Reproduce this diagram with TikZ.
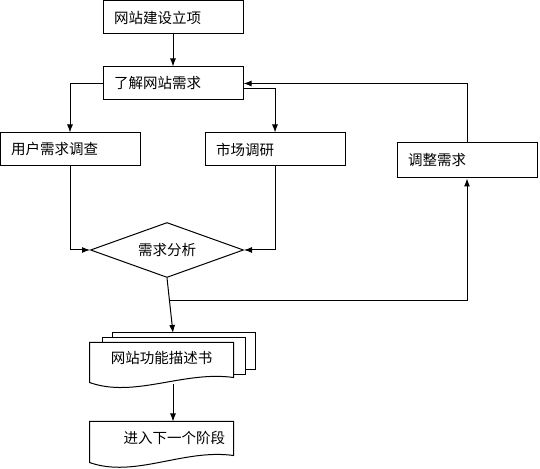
\documentclass[tikz,border=0pt]{standalone}
\usepackage{fontspec}
\usepackage{tikz}
\usetikzlibrary{shapes.geometric,arrows.meta,calc}
\newfontfamily\cjk{Noto Sans CJK SC}

\begin{document}
\begin{tikzpicture}[x=1pt,y=1pt,line width=1pt,>={Latex[length=8pt,width=6pt]},
	font=\cjk\fontsize{14.5}{17}\selectfont]
	\useasboundingbox (0,0) rectangle (540,468);

	\begin{scope}[every node/.style={draw,rectangle,minimum width=140pt,minimum height=33pt,text width=118pt,inner xsep=11pt,align=left}]
		\node (start) at (173,450.5) {网站建设立项};
		\node (need) at (173,384.5) {了解网站需求};
		\node (user) at (70,318.5) {用户需求调查};
		\node (market) at (275,318.5) {市场调研};
		\node [minimum height=35pt] (adjust) at (467,307.5) {调整需求};
	\end{scope}

	\node [draw,diamond,aspect=2.8,minimum width=153pt,minimum height=55pt,inner sep=0pt] (ana) at (167,218) {需求分析};

	% pages behind the document
	\draw (112,130) -- (112,135) -- (255,135) -- (255,98) -- (245,98);
	\draw (102,125) -- (102,130) -- (245,130) -- (245,93) -- (233,93);
	\coordinate (stacktop) at (173,135);

	\begin{scope}[every node/.style={minimum width=143pt,minimum height=30pt}]
		\node (doc) at (161.5,110) {网站功能描述书};
		\node [minimum height=32pt,text width=127pt,inner xsep=8pt,align=right] (next) at (161.5,30) {进入下一个阶段};
	\end{scope}
	\draw (doc.north west) -- (doc.north east) -- ([yshift=-4pt]doc.south east)
		.. controls +(-50,7) and +(45,-16) .. ([yshift=-9pt]doc.south west) -- cycle;
	\draw (next.north west) -- (next.north east) -- ([yshift=-1pt]next.south east)
		.. controls +(-50,7) and +(45,-16) .. ([yshift=-8pt]next.south west) -- cycle;

	\begin{scope}[every path/.style={draw=black}]
		\draw [->] (start) -- (need);
		\draw [->] (need.west) -| (user.north);
		\draw [->] ([yshift=-5.5pt]need.east) -| (market.north);
		\draw [->] (adjust.north) |- (need.east);
		\draw [->] (user.south) |- (ana.west);
		\draw [->] (market.south) |- (ana.east);
		\draw [->] (ana.south) -- (stacktop);
		\coordinate (split) at ($(ana.south)!0.405!(stacktop)$);
		\draw [->] (split) -| (adjust.south);
		\draw [->] ([xshift=11.5pt,yshift=-11pt]doc.south) -- (next.north -| stacktop);
	\end{scope}
\end{tikzpicture}
\end{document}
